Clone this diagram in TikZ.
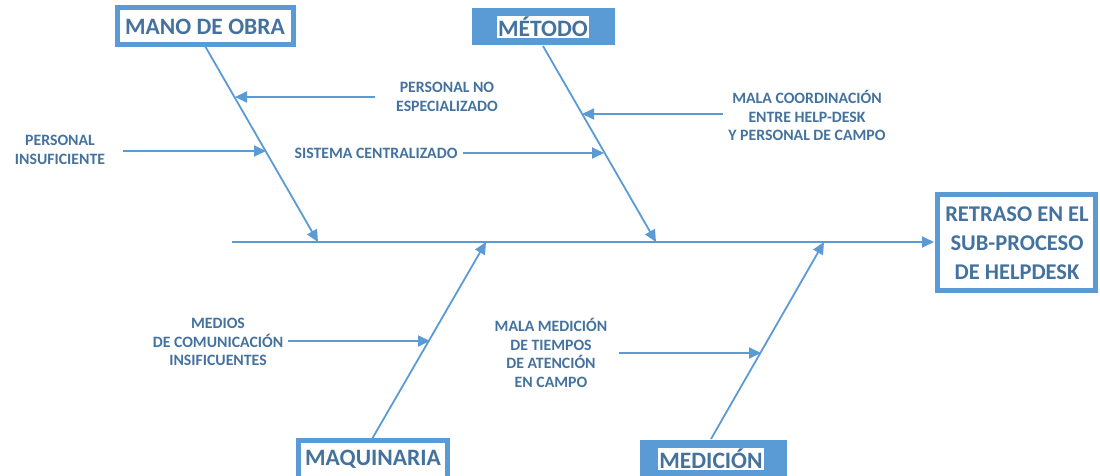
\documentclass[tikz,border=0pt]{standalone}
\usepackage{fontspec}
\setmainfont{Carlito}
\usetikzlibrary{arrows.meta}
\definecolor{lineblue}{HTML}{5B9BD5}
\definecolor{textblue}{HTML}{44729E}
\tikzset{
  bone/.style={draw=lineblue, line width=1.8pt, -{Triangle[length=12pt,width=11pt]}},
  cause/.style={font=\fontsize{15.8}{18.7}\selectfont\bfseries, text=textblue, align=center, inner sep=0pt},
  frame/.style={draw=lineblue, line width=5pt, fill=white},
  filled/.style={fill=lineblue, draw=none},
  cat/.style={font=\fontsize{23.5}{26}\selectfont\bfseries, text=textblue, inner sep=1.5pt},
  effect/.style={font=\fontsize{22.5}{29}\selectfont\bfseries, text=textblue, align=center}
}
\begin{document}
\begin{tikzpicture}[x=1pt,y=-1pt]
\useasboundingbox (0,0) rectangle (1100,476);
% category boxes
\draw[frame] (117,8) rectangle (293,45);
\node[cat] (mano) at (205,27) {MANO DE OBRA};
\fill[filled] (472,8) rectangle (615,45);
\node[cat, fill=white] (metodo) at (543,27) {MÉTODO};
\draw[frame] (298,440) rectangle (447,482);
\node[cat] (maq) at (373,459) {MAQUINARIA};
\fill[filled] (640,440) rectangle (787,482);
\node[cat, fill=white] (med) at (711,459) {MEDICIÓN};
% effect box
\draw[frame] (937,194) rectangle (1095,290);
\node[effect] (efecto) at (1017,243) {RETRASO EN EL\\SUB-PROCESO\\DE HELPDESK};
% spine
\coordinate (spineL) at (232,242);
\coordinate (effL) at (934,242);
\draw[bone] (spineL) -- (effL);
% bones
\coordinate (manoTop) at (205,46);
\coordinate (manoTip) at (318,242);
\coordinate (metTop) at (543,46);
\coordinate (metTip) at (656,242);
\coordinate (maqBot) at (372,439);
\coordinate (maqTip) at (486,242);
\coordinate (medBot) at (711,439);
\coordinate (medTip) at (824,242);
\draw[bone] (manoTop) -- (manoTip);
\draw[bone] (metTop) -- (metTip);
\draw[bone] (maqBot) -- (maqTip);
\draw[bone] (medBot) -- (medTip);
% causes
\node[cause] (c1) at (447,97) {PERSONAL NO\\ESPECIALIZADO};
\coordinate (c1s) at (375,97);
\coordinate (c1e) at (235,97);
\draw[bone] (c1s) -- (c1e);
\node[cause] (c2) at (60,150) {PERSONAL\\INSUFICIENTE};
\coordinate (c2s) at (123,151);
\coordinate (c2e) at (266,151);
\draw[bone] (c2s) -- (c2e);
\node[cause] (c3) at (376,153) {SISTEMA CENTRALIZADO};
\coordinate (c3s) at (463,153);
\coordinate (c3e) at (604,153);
\draw[bone] (c3s) -- (c3e);
\node[cause] (c4) at (807,115.5) {MALA COORDINACIÓN\\ENTRE HELP-DESK\\Y PERSONAL DE CAMPO};
\coordinate (c4s) at (723,114);
\coordinate (c4e) at (582,114);
\draw[bone] (c4s) -- (c4e);
\node[cause] (c5) at (218,342) {MEDIOS\\DE COMUNICACIÓN\\INSIFICUENTES};
\coordinate (c5s) at (288,341);
\coordinate (c5e) at (430,341);
\draw[bone] (c5s) -- (c5e);
\node[cause] (c6) at (551,353) {MALA MEDICIÓN\\DE TIEMPOS\\DE ATENCIÓN\\EN CAMPO};
\coordinate (c6s) at (619,353);
\coordinate (c6e) at (761,353);
\draw[bone] (c6s) -- (c6e);
\end{tikzpicture}
\end{document}
